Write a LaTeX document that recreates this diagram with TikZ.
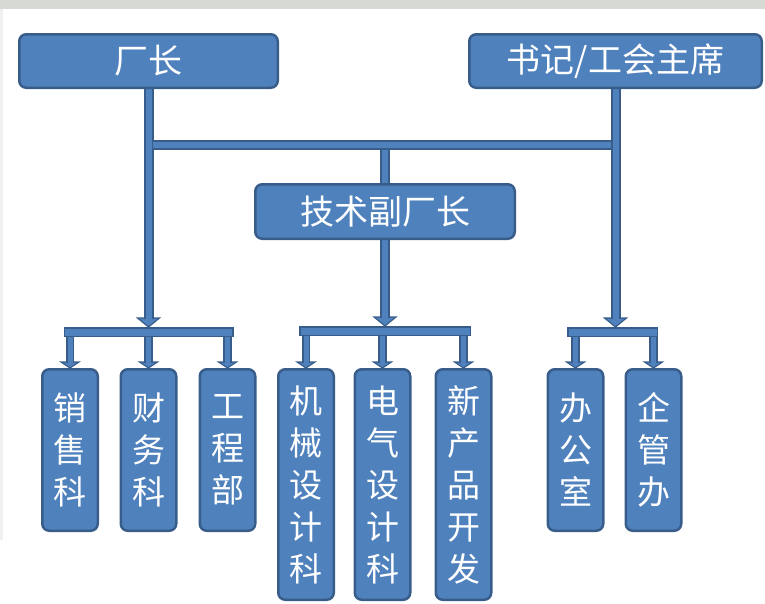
\documentclass[tikz,border=0pt]{standalone}
\usepackage{fontspec}
\setmainfont{Noto Sans CJK SC}
\usetikzlibrary{calc}
\definecolor{bl}{HTML}{4F81BD}
\definecolor{bd}{HTML}{385D8A}
\definecolor{bgs}{HTML}{D7D9D4}
\pgfdeclarelayer{bg}
\pgfsetlayers{bg,main}
\tikzset{
  box/.style={draw=bd, fill=bl, line width=2.5pt, rounded corners=7pt, text=white, inner sep=0pt},
  topbox/.style={box, minimum height=53.5pt, font=\fontsize{34}{38}\selectfont},
  vbox/.style={box, minimum width=55.5pt, align=center, font=\fontsize{33}{42}\selectfont},
  shortbox/.style={vbox, minimum height=161.5pt},
  longbox/.style={vbox, minimum height=230.5pt},
  bus/.style={draw=bd, fill=bl, line width=1.5pt, minimum height=8.5pt, inner sep=0pt},
  conn/.style={draw=bl, line width=6pt, preaction={draw=bd, line width=10pt}},
  sconn/.style={draw=bl, line width=5pt, preaction={draw=bd, line width=8.5pt}},
  bighead/.pic={\filldraw[fill=bl, draw=bd, line width=1.2pt, line join=miter] (-11,-9) -- (11,-9) -- (0,0) -- cycle;},
  smallhead/.pic={\filldraw[fill=bl, draw=bd, line width=1.2pt, line join=miter] (-9,-6) -- (9,-6) -- (0,0) -- cycle;}
}
\begin{document}
\begin{tikzpicture}[x=1pt,y=-1pt]
\useasboundingbox (0,0) rectangle (765,603);
\fill[bgs] (0,0) rectangle (765,9);
\fill[gray!12] (0,9) rectangle (3,540);

% top level
\node[topbox, minimum width=258.5pt] (cz) at (148.5,61) {厂长};
\node[topbox, minimum width=292.5pt] (sj) at (615.5,61) {书记/工会主席};
\node[topbox, minimum width=259.5pt, minimum height=54.5pt] (js) at (385,211.5) {技术副厂长};

% bus bars
\node[bus, minimum width=168.5pt] (busL) at (148.5,332) {};
\node[bus, minimum width=170.5pt] (busM) at (385,331) {};
\node[bus, minimum width=89.5pt] (busR) at (612.5,332) {};

% bottom boxes
\node[shortbox] (b1) at (70,450) {销\\售\\科};
\node[shortbox] (b2) at (148.5,450) {财\\务\\科};
\node[shortbox] (b3) at (227.5,450) {工\\程\\部};
\node[longbox] (b4) at (306,484.5) {机\\械\\设\\计\\科};
\node[longbox] (b5) at (382.5,484.5) {电\\气\\设\\计\\科};
\node[longbox] (b6) at (463.5,484.5) {新\\产\\品\\开\\发};
\node[shortbox] (b7) at (575.5,450) {办\\公\\室};
\node[shortbox] (b8) at (653.5,450) {企\\管\\办};

% junction coordinates on the top bar
\coordinate (hL) at ($(cz.south)+(4.5,0)$);
\coordinate (hR) at ($(sj.south)+(-4.5,0)$);

\begin{pgfonlayer}{bg}
  % main arrows
  \pic at (cz.south |- busL.north) {bighead};
  \pic at (sj.south |- busR.north) {bighead};
  \pic at (js.south |- busM.north) {bighead};
  \draw[conn] (cz.south) -- ($(cz.south |- busL.north)+(0,-8)$);
  \draw[conn] (sj.south) -- ($(sj.south |- busR.north)+(0,-8)$);
  \draw[conn] (js.south) -- ($(js.south |- busM.north)+(0,-8)$);
  % link from top bar to 技术副厂长
  \draw[conn] (js.north |- 0,145) -- (js.north);
  % top horizontal bar
  \draw[conn] (hL |- 0,145) -- (hR |- 0,145);
  % sub arrows
  \foreach \b/\u in {b1/busL,b2/busL,b3/busL,b4/busM,b5/busM,b6/busM,b7/busR,b8/busR}{
    \pic at (\b.north) {smallhead};
    \draw[sconn] (\b.north |- \u.south) -- ($(\b.north)+(0,-5)$);
  }
\end{pgfonlayer}
\end{tikzpicture}
\end{document}
